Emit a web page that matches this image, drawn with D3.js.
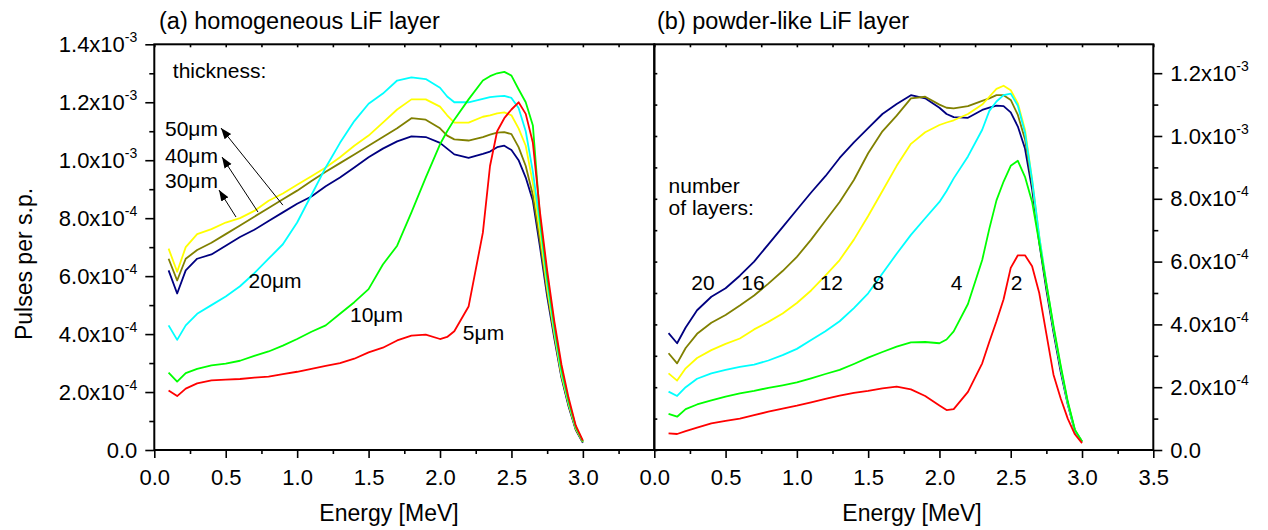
<!DOCTYPE html>
<html>
<head>
<meta charset="utf-8">
<script src="https://cdn.jsdelivr.net/npm/d3@7"></script>
<style>
  body { margin: 0; background: #fff; }
  svg { display: block; font-family: "Liberation Sans", Arial, sans-serif; }
  .axis path { display: none; }
  .axis line { stroke: #000; stroke-width: 1.6; }
  .axis text { font-size: 22px; fill: #000; font-family: "Liberation Sans", Arial, sans-serif; }
  .frame { fill: none; stroke: #000; stroke-width: 2; }
  .line { fill: none; stroke-width: 1.8; stroke-linejoin: round; }
  .note { font-size: 21px; fill: #000; }
</style>
</head>
<body>
<svg id="chart" width="1268" height="530"></svg>
<script>
// Energy grid shared by every curve [MeV]
const energy = [0.1, 0.16, 0.22, 0.3, 0.4, 0.5, 0.6, 0.7, 0.8, 0.9, 1.0, 1.1, 1.2, 1.3, 1.4, 1.5, 1.6, 1.7, 1.8, 1.9, 2.0,
                2.05, 2.1, 2.2, 2.3, 2.35, 2.4, 2.45, 2.5, 2.55, 2.6, 2.65, 2.7, 2.75, 2.8, 2.85, 2.9, 2.95, 3.0];

// (a) homogeneous LiF layer, pulses per s.p. in units of 1e-4
const thick50 = [6.2, 5.4, 6.2, 6.6, 6.75, 7.05, 7.35, 7.6, 7.9, 8.2, 8.5, 8.75, 9.1, 9.4, 9.75, 10.1, 10.4, 10.65, 10.82, 10.8, 10.6,
                 10.4, 10.2, 10.08, 10.22, 10.3, 10.45, 10.5, 10.35, 10.0, 9.4, 8.6, 7.0, 5.3, 3.85, 2.5, 1.5, 0.7, 0.25];
const thick40 = [6.6, 5.85, 6.6, 6.9, 7.15, 7.45, 7.75, 8.05, 8.35, 8.65, 8.95, 9.28, 9.6, 9.9, 10.2, 10.5, 10.8, 11.1, 11.45, 11.4, 11.1,
                 10.85, 10.72, 10.68, 10.8, 10.88, 10.95, 10.97, 10.9, 10.45, 9.8, 8.8, 7.2, 5.45, 3.95, 2.55, 1.55, 0.72, 0.27];
const thick30 = [6.95, 6.15, 7.0, 7.45, 7.62, 7.85, 8.0, 8.25, 8.6, 8.85, 9.15, 9.45, 9.75, 10.1, 10.5, 10.85, 11.3, 11.75, 12.1, 12.1, 11.85,
                 11.55, 11.3, 11.3, 11.5, 11.55, 11.62, 11.65, 11.55, 11.1, 10.5, 9.2, 7.5, 5.6, 4.05, 2.6, 1.6, 0.75, 0.28];
const thick20 = [4.3, 3.8, 4.3, 4.7, 5.0, 5.3, 5.65, 6.1, 6.6, 7.1, 7.85, 8.8, 9.75, 10.6, 11.35, 11.95, 12.3, 12.75, 12.86, 12.8, 12.5,
                 12.2, 12.0, 12.0, 12.12, 12.18, 12.2, 12.22, 12.15, 11.8, 11.0, 9.6, 7.8, 5.8, 4.15, 2.7, 1.65, 0.78, 0.3];
const thick10 = [2.67, 2.36, 2.65, 2.8, 2.92, 2.98, 3.08, 3.25, 3.4, 3.6, 3.83, 4.08, 4.3, 4.7, 5.1, 5.55, 6.4, 7.05, 8.2, 9.4, 10.55,
                 11.0, 11.4, 12.1, 12.75, 12.9, 13.0, 13.05, 12.92, 12.45, 12.0, 11.2, 8.0, 6.0, 4.3, 2.8, 1.7, 0.8, 0.3];
const thick5  = [2.05, 1.86, 2.12, 2.3, 2.4, 2.43, 2.45, 2.5, 2.53, 2.62, 2.7, 2.8, 2.9, 3.0, 3.15, 3.37, 3.53, 3.78, 3.95, 3.98, 3.83,
                 3.9, 4.1, 4.95, 7.5, 9.8, 11.0, 11.45, 11.75, 12.0, 11.6, 10.6, 8.2, 6.2, 4.45, 2.95, 1.8, 0.85, 0.32];

// (b) powder-like LiF layer, pulses per s.p. in units of 1e-4
const layers20 = [3.72, 3.4, 3.9, 4.45, 4.88, 5.15, 5.55, 6.0, 6.55, 7.1, 7.65, 8.2, 8.72, 9.3, 9.8, 10.25, 10.7, 11.02, 11.3, 11.2, 10.9,
                  10.7, 10.6, 10.58, 10.83, 10.9, 10.97, 10.95, 10.75, 10.3, 9.6, 8.3, 6.6, 5.1, 3.75, 2.5, 1.45, 0.6, 0.26];
const layers16 = [3.08, 2.76, 3.25, 3.7, 4.05, 4.3, 4.6, 4.92, 5.3, 5.7, 6.15, 6.7, 7.3, 7.9, 8.6, 9.45, 10.15, 10.65, 11.2, 11.25, 11.0,
                  10.9, 10.88, 10.95, 11.12, 11.2, 11.3, 11.3, 11.15, 10.67, 9.9, 8.5, 6.7, 5.2, 3.85, 2.6, 1.5, 0.62, 0.27];
const layers12 = [2.44, 2.21, 2.6, 2.93, 3.18, 3.38, 3.55, 3.84, 4.08, 4.35, 4.68, 5.08, 5.55, 6.05, 6.7, 7.45, 8.25, 9.05, 9.75, 10.12, 10.35,
                  10.43, 10.5, 10.7, 11.0, 11.25, 11.5, 11.6, 11.46, 11.04, 10.2, 8.6, 6.8, 5.3, 3.9, 2.65, 1.5, 0.62, 0.27];
const layers8  = [1.86, 1.72, 2.0, 2.27, 2.44, 2.55, 2.65, 2.72, 2.85, 3.02, 3.22, 3.5, 3.78, 4.1, 4.52, 4.99, 5.62, 6.25, 6.85, 7.38, 7.9,
                  8.25, 8.65, 9.35, 10.2, 10.8, 11.1, 11.3, 11.35, 10.96, 10.1, 8.6, 6.8, 5.3, 3.9, 2.65, 1.5, 0.62, 0.27];
const layers4  = [1.15, 1.06, 1.3, 1.45, 1.58, 1.7, 1.8, 1.88, 1.98, 2.06, 2.15, 2.28, 2.42, 2.55, 2.74, 2.94, 3.12, 3.29, 3.43, 3.44, 3.4,
                  3.52, 3.78, 4.65, 6.05, 7.05, 7.95, 8.55, 9.05, 9.21, 8.7, 7.9, 6.6, 5.3, 3.95, 2.7, 1.55, 0.65, 0.27];
const layers2  = [0.53, 0.51, 0.6, 0.71, 0.85, 0.93, 1.0, 1.11, 1.22, 1.32, 1.41, 1.52, 1.63, 1.73, 1.82, 1.88, 1.96, 2.02, 1.93, 1.72, 1.42,
                  1.27, 1.3, 1.85, 2.76, 3.45, 4.1, 4.8, 5.8, 6.2, 6.2, 5.85, 5.0, 3.7, 2.4, 1.65, 1.0, 0.5, 0.22];

// Tick values
const xMajorLeft = [0, 0.5, 1.0, 1.5, 2.0, 2.5, 3.0];
const xMajorRight = [0, 0.5, 1.0, 1.5, 2.0, 2.5, 3.0, 3.5];
const xMinor = [0.25, 0.75, 1.25, 1.75, 2.25, 2.75, 3.25];
const yMajorLeft = [0, 2, 4, 6, 8, 10, 12, 14];
const yMinorLeft = [1, 3, 5, 7, 9, 11, 13];
const yMajorRight = [0, 2, 4, 6, 8, 10, 12];
const yMinorRight = [1, 3, 5, 7, 9, 11];

// Colours, drawn in this order
const seriesColors = ["#000080", "#808000", "#ffff00", "#00ffff", "#00ff00", "#ff0000"];
const leftSeries = [thick50, thick40, thick30, thick20, thick10, thick5];
const rightSeries = [layers20, layers16, layers12, layers8, layers4, layers2];

// Annotations in data coordinates (energy, value)
const leftLabels = [
  {t: "thickness:", e: 0.13, v: 12.82},
  {t: "50\u03bcm", e: 0.075, v: 10.85},
  {t: "40\u03bcm", e: 0.075, v: 9.92},
  {t: "30\u03bcm", e: 0.075, v: 9.03},
  {t: "20\u03bcm", e: 0.66, v: 5.6},
  {t: "10\u03bcm", e: 1.37, v: 4.4},
  {t: "5\u03bcm", e: 2.16, v: 3.8}
];
const arrows = [
  {e0: 0.9, v0: 8.45, e1: 0.467, v1: 11.11},
  {e0: 0.726, v0: 8.21, e1: 0.474, v1: 10.11},
  {e0: 0.572, v0: 8.04, e1: 0.453, v1: 8.97}
];
const layerTitle = {lines: ["number", "of layers:"], e: 0.1, v: 8.17};
const rightText = [
  {t: "20", e: 0.26, v: 5.1},
  {t: "16", e: 0.61, v: 5.1},
  {t: "12", e: 1.16, v: 5.1},
  {t: "8", e: 1.53, v: 5.1},
  {t: "4", e: 2.08, v: 5.1},
  {t: "2", e: 2.5, v: 5.1}
];

// Panel geometry
const plotTop = 44.3, plotBottom = 450;
const xL = d3.scaleLinear().domain([0, 3.5]).range([154.3, 654.3]);
const xR = d3.scaleLinear().domain([0, 3.5]).range([654.3, 1153.3]);
const yL = d3.scaleLinear().domain([0, 14]).range([plotBottom, plotTop]);
const yR = d3.scaleLinear().domain([0, 12.92]).range([plotBottom, plotTop]);

const svg = d3.select("#chart");

// y tick labels like 1.2x10^-3
function sciLabel(sel) {
  sel.each(function(d) {
    const t = d3.select(this);
    t.text(null);
    if (d === 0) { t.append("tspan").text("0.0"); return; }
    const big = d >= 10;
    const mant = big ? (d / 10).toFixed(1) : d.toFixed(1);
    t.append("tspan").text(mant + "x10");
    t.append("tspan").attr("dy", -10).style("font-size", "14px").text(big ? "-3" : "-4");
  });
}

function drawCurves(x, y, series) {
  const line = d3.line()
    .x(function(d, i) { return x(energy[i]); })
    .y(function(d) { return y(d); });
  series.forEach(function(s, k) {
    svg.append("path")
      .datum(s)
      .attr("class", "line")
      .attr("stroke", seriesColors[k])
      .attr("d", line);
  });
}

function drawFrame(x, xMajor) {
  // bottom axis, major with labels
  svg.append("g").attr("class", "axis")
    .attr("transform", "translate(0," + plotBottom + ")")
    .call(d3.axisBottom(x).tickValues(xMajor).tickSize(8).tickPadding(11.5).tickSizeOuter(0)
      .tickFormat(d3.format(".1f")));
  // bottom axis, minor
  svg.append("g").attr("class", "axis")
    .attr("transform", "translate(0," + plotBottom + ")")
    .call(d3.axisBottom(x).tickValues(xMinor).tickSize(4).tickFormat("").tickSizeOuter(0));
  // top, small inward ticks
  svg.append("g").attr("class", "axis")
    .attr("transform", "translate(0," + plotTop + ")")
    .call(d3.axisTop(x).tickValues(xMinor.concat(xMajor)).tickSize(-3).tickFormat("").tickSizeOuter(0));
  svg.append("rect").attr("class", "frame")
    .attr("x", x.range()[0]).attr("y", plotTop)
    .attr("width", x.range()[1] - x.range()[0]).attr("height", plotBottom - plotTop);
}

drawCurves(xL, yL, leftSeries);
drawCurves(xR, yR, rightSeries);
drawFrame(xL, xMajorLeft);
drawFrame(xR, xMajorRight);

// left y axis
svg.append("g").attr("class", "axis")
  .attr("transform", "translate(" + xL(0) + ",0)")
  .call(d3.axisLeft(yL).tickValues(yMajorLeft).tickSize(9).tickPadding(8).tickSizeOuter(0))
  .selectAll(".tick text").call(sciLabel);
svg.append("g").attr("class", "axis")
  .attr("transform", "translate(" + xL(0) + ",0)")
  .call(d3.axisLeft(yL).tickValues(yMinorLeft).tickSize(5).tickFormat("").tickSizeOuter(0));

// divider: small inward ticks
svg.append("g").attr("class", "axis")
  .attr("transform", "translate(" + xR(0) + ",0)")
  .call(d3.axisRight(yR).tickValues(yMajorRight.concat(yMinorRight)).tickSize(3).tickFormat("").tickSizeOuter(0));

// right y axis
svg.append("g").attr("class", "axis")
  .attr("transform", "translate(" + xR(3.5) + ",0)")
  .call(d3.axisRight(yR).tickValues(yMajorRight).tickSize(9).tickPadding(8).tickSizeOuter(0))
  .selectAll(".tick text").call(sciLabel);
svg.append("g").attr("class", "axis")
  .attr("transform", "translate(" + xR(3.5) + ",0)")
  .call(d3.axisRight(yR).tickValues(yMinorRight).tickSize(5).tickFormat("").tickSizeOuter(0));

// titles
svg.append("text").attr("x", 159).attr("y", 29).style("font-size", "23.5px").text("(a) homogeneous LiF layer");
svg.append("text").attr("x", 657).attr("y", 29).style("font-size", "23.5px").text("(b) powder-like LiF layer");
svg.append("text").attr("x", 389).attr("y", 521).attr("text-anchor", "middle").style("font-size", "23px").text("Energy [MeV]");
svg.append("text").attr("x", 912).attr("y", 521).attr("text-anchor", "middle").style("font-size", "23px").text("Energy [MeV]");
svg.append("text").attr("transform", "translate(32,264) rotate(-90)").attr("text-anchor", "middle")
  .style("font-size", "23px").text("Pulses per s.p.");

// annotations
leftLabels.forEach(function(a) {
  svg.append("text").attr("class", "note").attr("x", xL(a.e)).attr("y", yL(a.v)).text(a.t);
});
const lt = svg.append("text").attr("class", "note").attr("y", yR(layerTitle.v));
layerTitle.lines.forEach(function(s, i) {
  lt.append("tspan").attr("x", xR(layerTitle.e)).attr("dy", i === 0 ? 0 : 22).text(s);
});
rightText.forEach(function(a) {
  svg.append("text").attr("class", "note").attr("x", xR(a.e)).attr("y", yR(a.v)).text(a.t);
});

svg.append("defs").append("marker")
  .attr("id", "head").attr("viewBox", "0 0 10 10").attr("refX", 10).attr("refY", 5)
  .attr("markerWidth", 11).attr("markerHeight", 11).attr("markerUnits", "userSpaceOnUse")
  .attr("orient", "auto")
  .append("path").attr("d", "M0,1.2 L10,5 L0,8.8 Z").attr("fill", "#000");

arrows.forEach(function(a) {
  svg.append("line")
    .attr("x1", xL(a.e0)).attr("y1", yL(a.v0))
    .attr("x2", xL(a.e1)).attr("y2", yL(a.v1))
    .attr("stroke", "#000").attr("stroke-width", 1)
    .attr("marker-end", "url(#head)");
});
</script>
</body>
</html>
